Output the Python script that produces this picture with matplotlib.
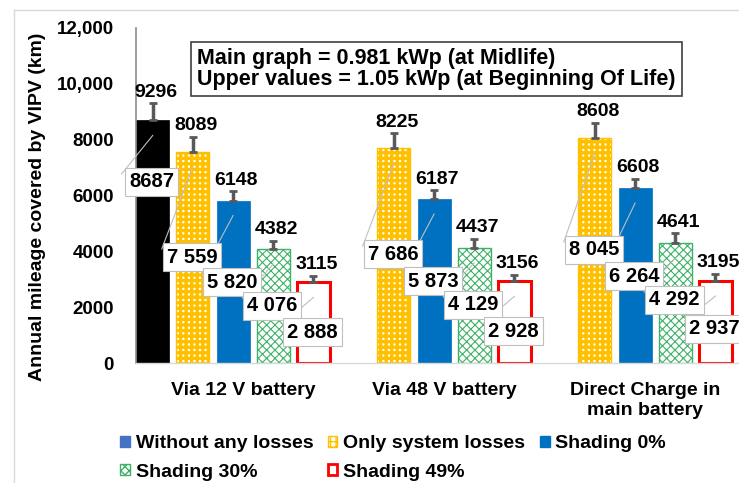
import numpy as np
import matplotlib.pyplot as plt
from matplotlib.patches import Patch
from matplotlib.lines import Line2D

plt.rcParams['font.family'] = ['Liberation Sans', 'DejaVu Sans']
plt.rcParams['font.weight'] = 'bold'

categories = ['Via 12 V battery', 'Via 48 V battery', 'Direct Charge in\nmain battery']
series_names = ['Without any losses', 'Only system losses', 'Shading 0%',
                'Shading 30%', 'Shading 49%']

# main graph values (0.981 kWp, midlife), None = no bar
without_losses = [8687, None, None]
system_losses = [7559, 7686, 8045]
shading_0 = [5820, 5873, 6264]
shading_30 = [4076, 4129, 4292]
shading_49 = [2888, 2928, 2937]

# upper values (1.05 kWp, beginning of life)
without_losses_bol = [9296, None, None]
system_losses_bol = [8089, 8225, 8608]
shading_0_bol = [6148, 6187, 6608]
shading_30_bol = [4382, 4437, 4641]
shading_49_bol = [3115, 3156, 3195]

# where the boxed midlife labels sit (y, data units)
box_y = [[6484, None, None], [3797, 3904, 4048], [2901, 2937, 3116],
         [2042, 2078, 2257], [1110, 1146, 1218]]

mid = [without_losses, system_losses, shading_0, shading_30, shading_49]
bol = [without_losses_bol, system_losses_bol, shading_0_bol, shading_30_bol, shading_49_bol]

styles = [
    dict(color='black', edgecolor='black', hatch=None, hlw=1.0, lw=0.5),
    dict(color='white', edgecolor='#FFC000', hatch='+++', hlw=2.4, lw=1.0),
    dict(color='#0070C0', edgecolor='#0070C0', hatch=None, hlw=1.0, lw=0.5),
    dict(color='white', edgecolor='#3DB267', hatch='xxxx', hlw=0.8, lw=1.0),
    dict(color='white', edgecolor='#FF0000', hatch=None, hlw=1.0, lw=2.2),
]

fig = plt.figure(figsize=(7.39, 4.83), dpi=100)
ax = fig.add_axes([136/739, 120/483, 603/739, 335/483])

x = np.arange(len(categories))
width = 0.165
step = 0.2
px_y = 12000/335  # data units per pixel (vertical)

for i, (vals, ups, st) in enumerate(zip(mid, bol, styles)):
    idx = [k for k, v in enumerate(vals) if v is not None]
    xs = x[idx] + (i - 2)*step
    hs = np.array([vals[k] for k in idx])
    us = np.array([ups[k] for k in idx])
    plt.rcParams['hatch.linewidth'] = st['hlw']
    ax.bar(xs, hs, width, color=st['color'], edgecolor=st['edgecolor'],
           hatch=st['hatch'], linewidth=st['lw'], zorder=2)
    ax.errorbar(xs, hs, yerr=[np.zeros_like(hs), us - hs], fmt='none',
                ecolor='#595959', elinewidth=2.5, capsize=3, capthick=2, zorder=3)
    for xx, h, u, k in zip(xs, hs, us, idx):
        ax.annotate(str(u), (xx, u), xytext=(2, 2), textcoords='offset points',
                    ha='center', va='bottom', fontsize=14, fontweight='bold',
                    annotation_clip=False, zorder=6)
        by = box_y[i][k]
        txt = str(h) if i == 0 else f'{h:,}'.replace(',', ' ')
        ax.plot([xx, xx - 0.155], [h - 15*px_y, by + 8*px_y], color='#BFBFBF',
                lw=0.8, zorder=4, clip_on=False)
        ax.text(xx - 0.005, by, txt, ha='center', va='center', fontsize=14.5,
                fontweight='bold', zorder=5, clip_on=False,
                bbox=dict(boxstyle='square,pad=0.2', fc='white', ec='#BFBFBF', lw=0.8))

ax.set_xlim(-0.483, 2.517)
ax.set_ylim(0, 12000)
ax.set_yticks([0, 2000, 4000, 6000, 8000, 10000, 12000])
ax.set_yticklabels(['0', '2000', '4000', '6000', '8000', '10,000', '12,000'])
ax.set_xticks(x + 0.05)
ax.set_xticklabels(categories, linespacing=1.2)
ax.tick_params(axis='y', length=0, pad=16, labelsize=13.5)
ax.tick_params(axis='x', length=0, pad=14, labelsize=14)
for lab in ax.get_xticklabels() + ax.get_yticklabels():
    lab.set_fontweight('bold')
for s in ['top', 'right']:
    ax.spines[s].set_visible(False)
ax.spines['left'].set_color('#8C8C8C')
ax.spines['left'].set_linewidth(1.2)
ax.spines['bottom'].set_color('#D9D9D9')
ax.spines['bottom'].set_linewidth(1.0)

ax.set_ylabel('Annual mileage covered by VIPV (km)', fontsize=14, fontweight='bold')
ax.yaxis.set_label_coords(-0.150, 0.465)

fig.text(197/739, 1 - 69/483,
         'Main graph = 0.981 kWp (at Midlife)\nUpper values = 1.05 kWp (at Beginning Of Life)',
         ha='left', va='center', fontsize=15.5, fontweight='bold', linespacing=0.95,
         bbox=dict(boxstyle='square,pad=0.3', fc='white', ec='#404040', lw=1.2))

# outer chart frame (left and top edges visible)
fig.add_artist(Line2D([14/739, 14/739], [0, 1 - 10/483], transform=fig.transFigure,
                      color='#D9D9D9', lw=1))
fig.add_artist(Line2D([14/739, 1], [1 - 10/483, 1 - 10/483], transform=fig.transFigure,
                      color='#D9D9D9', lw=1))

handles = []
legend_faces = ['#4472C4', 'white', '#0070C0', 'white', 'white']
for st, fc in zip(styles, legend_faces):
    plt.rcParams['hatch.linewidth'] = st['hlw']
    ec = '#4472C4' if fc == '#4472C4' else st['edgecolor']
    handles.append(Patch(facecolor=fc, edgecolor=ec, hatch=st['hatch'],
                         linewidth=2 if st['lw'] > 2 else 1))
# legend fills column by column, so reorder to read row by row
order = [0, 3, 1, 4, 2]
fig.legend([handles[k] for k in order], [series_names[k] for k in order],
           loc='upper left', ncol=3,
           bbox_to_anchor=(120/739, 1 - 435/483), frameon=False,
           prop=dict(weight='bold', size=14), borderpad=0, borderaxespad=0,
           handlelength=0.5, handleheight=0.5, handletextpad=0.3,
           columnspacing=0.75, labelspacing=0.6)

fig.savefig('out.png', dpi=100)
